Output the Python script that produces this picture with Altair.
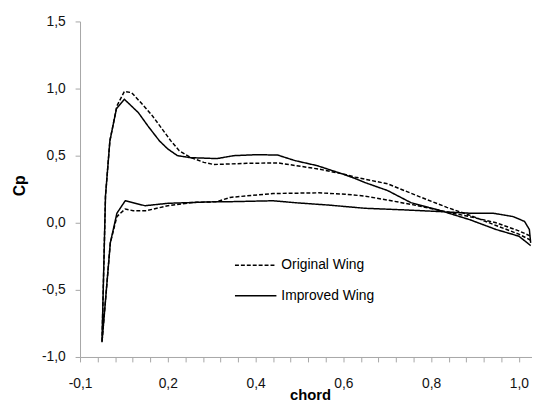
import altair as alt
import pandas as pd

# Original Wing (dashed): trailing edge -> upper branch -> leading edge -> lower branch -> trailing edge
orig_x = [1.027, 1.0, 0.948, 0.889, 0.836, 0.777, 0.701, 0.627, 0.597, 0.544, 0.492, 0.451, 0.38, 0.305,
          0.282, 0.252, 0.226, 0.207, 0.185, 0.1625, 0.14, 0.1175, 0.101, 0.084, 0.068, 0.058, 0.05,
          0.069, 0.084, 0.103, 0.121, 0.151, 0.2, 0.26, 0.312, 0.342, 0.44, 0.544, 0.604, 0.649, 0.701,
          0.762, 0.822, 0.889, 0.948, 1.0, 1.027]
orig_y = [-0.13, -0.085, -0.02, 0.055, 0.115, 0.19, 0.29, 0.34, 0.365, 0.40, 0.426, 0.446, 0.443, 0.434,
          0.45, 0.487, 0.537, 0.61, 0.708, 0.807, 0.89, 0.97, 0.978, 0.87, 0.61, 0.2, -0.89,
          -0.15, 0.046, 0.103, 0.09, 0.09, 0.127, 0.152, 0.157, 0.189, 0.218, 0.223, 0.213, 0.199, 0.169,
          0.132, 0.09, 0.045, 0.0, -0.06, -0.10]

# Improved Wing (solid)
imp_x = [1.027, 1.0, 0.948, 0.889, 0.822, 0.754, 0.701, 0.649, 0.627, 0.597, 0.54, 0.49, 0.45, 0.40,
         0.35, 0.312, 0.28, 0.252, 0.222, 0.20, 0.181, 0.155, 0.133, 0.114, 0.101, 0.083, 0.068, 0.058,
         0.05, 0.069, 0.084, 0.103, 0.148, 0.2, 0.312, 0.342, 0.44, 0.492, 0.566, 0.649, 0.739, 0.822,
         0.889, 0.942, 0.987, 1.013, 1.024, 1.027]
imp_y = [-0.17, -0.10, -0.05, 0.022, 0.09, 0.15, 0.24, 0.30, 0.33, 0.365, 0.426, 0.463, 0.505, 0.507,
         0.50, 0.478, 0.482, 0.485, 0.50, 0.55, 0.61, 0.72, 0.82, 0.88, 0.92, 0.85, 0.61, 0.2,
         -0.89, -0.15, 0.071, 0.164, 0.127, 0.145, 0.157, 0.157, 0.164, 0.149, 0.132, 0.108, 0.096, 0.083,
         0.071, 0.071, 0.046, 0.01, -0.05, -0.15]

series_names = ["Original Wing", "Improved Wing"]
x_tick_values = [0.0, 0.04, 0.08, 0.12, 0.16, 0.2, 0.24, 0.28, 0.32, 0.36, 0.4, 0.44, 0.48, 0.52,
                 0.56, 0.6, 0.64, 0.68, 0.72, 0.76, 0.8, 0.84, 0.88, 0.92, 0.96, 1.0]
y_tick_values = [-1.0, -0.5, 0.0, 0.5, 1.0, 1.5]

rows = []
for i, (x, y) in enumerate(zip(orig_x, orig_y)):
    rows.append({"series": series_names[0], "i": i, "x": x, "y": y})
for i, (x, y) in enumerate(zip(imp_x, imp_y)):
    rows.append({"series": series_names[1], "i": i, "x": x, "y": y})
df = pd.DataFrame(rows)

FONT = "Liberation Sans"
AX = "#a6a6a6"

x_label_expr = ("datum.value < 0.001 ? '-0,1' : "
                "(abs(datum.value * 5 - round(datum.value * 5)) < 0.001 ? "
                "replace(format(datum.value, '.1f'), '.', ',') : '')")
y_label_expr = "replace(replace(format(datum.value, '.1f'), '.', ','), '\u2212', '-')"

chart = alt.Chart(df).mark_line(strokeWidth=1.5, color="black").encode(
    x=alt.X("x:Q",
            scale=alt.Scale(domain=[0, 1.03], nice=False, zero=False),
            axis=alt.Axis(values=x_tick_values, labelExpr=x_label_expr, title="chord",
                          titleX=233, titleY=43, titleAlign="center", titleBaseline="alphabetic",
                          titleFont=FONT, titleFontSize=15, titleFontWeight="bold", titleColor="black",
                          labelFont=FONT, labelFontSize=14, labelColor="#111", labelPadding=15,
                          labelOverlap=False, labelFlush=False,
                          tickSize=5, tickColor=AX, domainColor=AX, grid=False)),
    y=alt.Y("y:Q",
            scale=alt.Scale(domain=[-1, 1.5], nice=False),
            axis=alt.Axis(values=y_tick_values,
                          labelExpr=y_label_expr,
                          title="Cp", titleX=-61, titleY=166, titleAngle=-90,
                          titleAlign="center", titleBaseline="middle",
                          titleFont=FONT, titleFontSize=16, titleFontWeight="bold", titleColor="black",
                          labelFont=FONT, labelFontSize=14, labelColor="#111", labelPadding=10,
                          tickSize=5, tickColor=AX, domainColor=AX, grid=False)),
    strokeDash=alt.StrokeDash("series:N",
                              scale=alt.Scale(domain=series_names, range=[[4, 2], [1, 0]]),
                              legend=alt.Legend(orient="none", legendX=156, legendY=225, title=None,
                                                symbolType="stroke", symbolSize=1764,
                                                symbolStrokeWidth=1.5, symbolStrokeColor="black",
                                                labelFont=FONT, labelFontSize=14, labelColor="black",
                                                labelOffset=4, rowPadding=2)),
    order="i:Q",
).properties(
    width=458, height=340,
    padding={"left": 73, "top": 11, "right": 0, "bottom": 44},
    autosize="none",
).configure_view(stroke=None)

chart.save("out.html", embed_options={"renderer": "svg", "actions": False})
